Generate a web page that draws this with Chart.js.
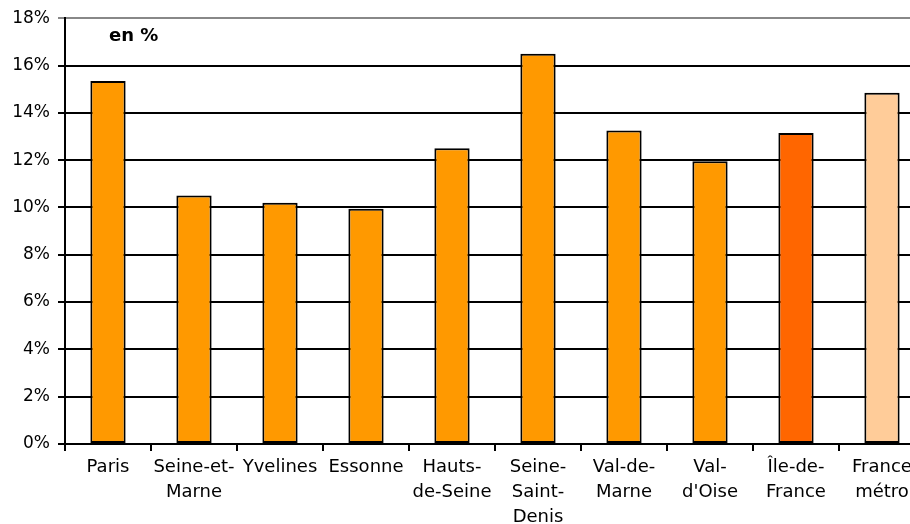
<!DOCTYPE html>
<html><head><meta charset="utf-8">
<script src="https://cdn.jsdelivr.net/npm/chart.js@4/dist/chart.umd.min.js"></script>
<style>
html,body{margin:0;padding:0;background:#fff;overflow:hidden;width:910px;height:524px;}
#wrap{width:930px;height:524px;position:relative;}
</style></head>
<body><div id="wrap"><canvas id="c"></canvas></div>
<script>
const categories = [['Paris'], ['Seine-et-','Marne'], ['Yvelines'], ['Essonne'], ['Hauts-','de-Seine'], ['Seine-','Saint-','Denis'], ['Val-de-','Marne'], ['Val-',"d'Oise"], ['Île-de-','France'], ['France','métro']];
const values = [15.35, 10.5, 10.2, 9.95, 12.5, 16.5, 13.25, 11.95, 13.15, 14.85];
const barColors = ['#FF9900','#FF9900','#FF9900','#FF9900','#FF9900','#FF9900','#FF9900','#FF9900','#FF6600','#FFCC99'];
const yTicks = [0, 2, 4, 6, 8, 10, 12, 14, 16, 18];
const unitLabel = 'en %';

const FONT = 'DejaVu Sans';
const unitPlugin = {
  id: 'unit',
  afterDraw(chart) {
    const {ctx, chartArea} = chart;
    ctx.save();
    ctx.font = 'bold 18px ' + FONT;
    ctx.fillStyle = '#000';
    ctx.textBaseline = 'middle';
    ctx.fillText(unitLabel, chartArea.left + 44, chartArea.top + 18);
    ctx.restore();
  }
};

new Chart(document.getElementById('c'), {
  type: 'bar',
  data: {
    labels: categories,
    datasets: [{
      data: values,
      backgroundColor: barColors,
      borderColor: '#000',
      borderWidth: 2,
      borderSkipped: false,
      categoryPercentage: 1,
      barPercentage: 0.41
    }]
  },
  options: {
    responsive: true,
    maintainAspectRatio: false,
    animation: false,
    layout: {padding: {left: 0, right: 5, top: 14, bottom: 0}},
    plugins: {legend: {display: false}, tooltip: {enabled: false}},
    scales: {
      x: {
        offset: true,
        grid: {offset: true, drawOnChartArea: false, drawTicks: true, tickLength: 7, color: '#000', lineWidth: 2},
        border: {color: '#000', width: 2},
        ticks: {color: '#000', font: {family: FONT, size: 18, lineHeight: 1.38}, padding: 4, maxRotation: 0, autoSkip: false},
        afterFit(s) { s.height = 80; }
      },
      y: {
        min: 0, max: 18,
        afterBuildTicks(s) { s.ticks = yTicks.map(v => ({value: v})); },
        grid: {color: ctx => (ctx.tick && ctx.tick.value === 18) ? '#888' : '#000', lineWidth: 2, tickLength: 7, drawTicks: true},
        border: {color: '#000', width: 2},
        ticks: {color: '#000', font: {family: FONT, size: 17}, padding: 8, callback: v => v + '%'},
        afterFit(s) { s.width = 65; }
      }
    }
  },
  plugins: [unitPlugin]
});
</script></body></html>
